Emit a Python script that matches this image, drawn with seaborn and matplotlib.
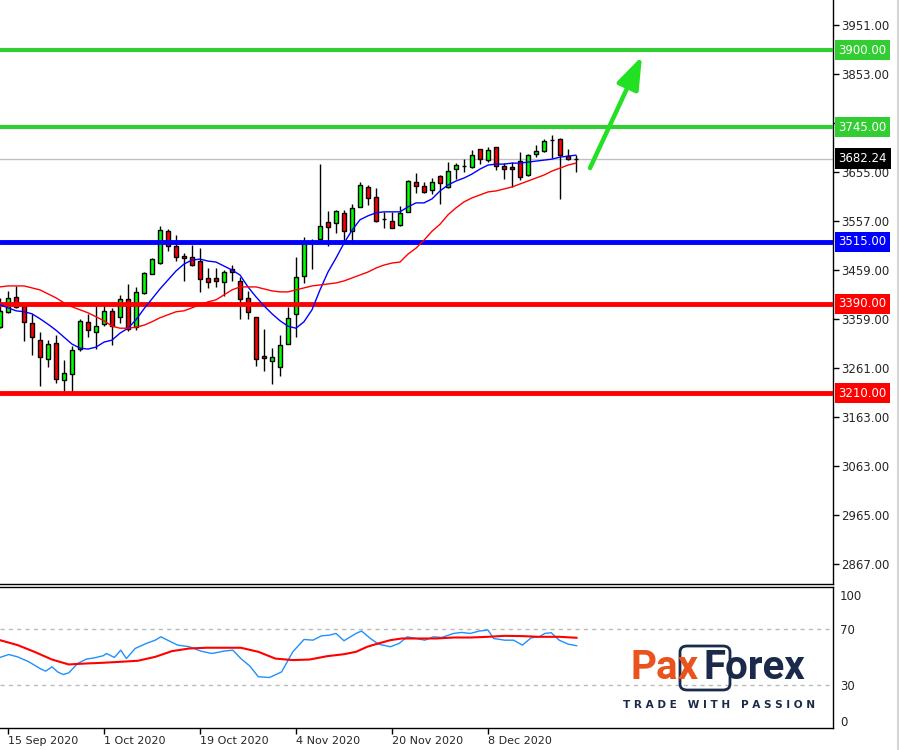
import numpy as np
import pandas as pd
import matplotlib
matplotlib.use("Agg")
import matplotlib.pyplot as plt
import seaborn as sns
from matplotlib.patches import FancyBboxPatch
from matplotlib.lines import Line2D

sns.set_style("white")
plt.rcParams['font.family'] = ['DejaVu Sans']

# daily candles, 14 Sep 2020 .. 23 Dec 2020 (index 0..72)
opens = [3343, 3374, 3404, 3386, 3351, 3317, 3279, 3311, 3237, 3249,
         3299, 3354, 3333, 3349, 3376, 3364, 3400, 3343, 3412, 3450,
         3472, 3536, 3506, 3486, 3484, 3476, 3442, 3442, 3434, 3460,
         3436, 3402, 3364, 3285, 3275, 3263, 3309, 3370, 3446, 3512,
         3520, 3555, 3553, 3573, 3536, 3585, 3625, 3605, 3561, 3557,
         3549, 3575, 3635, 3627, 3619, 3647, 3625, 3661, 3667, 3665,
         3701, 3679, 3705, 3667, 3665, 3677, 3649, 3691, 3697, 3719,
         3721, 3687, 3682]
highs = [3402, 3416, 3426, 3394, 3370, 3333, 3317, 3327, 3277, 3305,
         3360, 3370, 3392, 3394, 3382, 3408, 3430, 3424, 3454, 3482,
         3546, 3540, 3528, 3492, 3508, 3502, 3462, 3462, 3458, 3468,
         3444, 3416, 3364, 3339, 3301, 3327, 3384, 3484, 3524, 3520,
         3671, 3577, 3579, 3579, 3591, 3635, 3629, 3623, 3575, 3575,
         3587, 3639, 3653, 3635, 3643, 3649, 3675, 3673, 3681, 3699,
         3701, 3705, 3705, 3673, 3675, 3695, 3691, 3709, 3721, 3730,
         3723, 3701, 3689]
lows = [3341, 3372, 3382, 3315, 3287, 3225, 3263, 3231, 3211, 3213,
        3295, 3323, 3299, 3345, 3307, 3351, 3335, 3337, 3410, 3450,
        3470, 3496, 3476, 3436, 3466, 3414, 3422, 3424, 3406, 3436,
        3360, 3360, 3265, 3255, 3229, 3245, 3309, 3323, 3432, 3460,
        3518, 3506, 3532, 3514, 3516, 3585, 3589, 3555, 3542, 3542,
        3546, 3575, 3613, 3613, 3611, 3591, 3623, 3641, 3655, 3663,
        3671, 3675, 3659, 3641, 3625, 3639, 3647, 3685, 3695, 3683,
        3601, 3679, 3655]
closes = [3376, 3402, 3384, 3354, 3323, 3283, 3309, 3239, 3251, 3297,
          3355, 3337, 3345, 3376, 3345, 3400, 3339, 3414, 3452, 3480,
          3538, 3506, 3484, 3482, 3468, 3440, 3434, 3436, 3454, 3454,
          3400, 3374, 3279, 3281, 3283, 3307, 3362, 3444, 3512, 3512,
          3546, 3545, 3577, 3536, 3583, 3629, 3603, 3557, 3561, 3542,
          3573, 3637, 3627, 3615, 3635, 3633, 3657, 3669, 3667, 3689,
          3681, 3699, 3667, 3661, 3661, 3645, 3689, 3697, 3717, 3719,
          3689, 3681, 3682.24]

# moving averages (one value per candle)
ma_fast = [3388, 3382, 3376, 3374, 3370, 3360, 3349, 3337, 3323, 3309,
           3301, 3299, 3303, 3313, 3317, 3331, 3341, 3358, 3380, 3400,
           3420, 3438, 3456, 3470, 3478, 3480, 3476, 3474, 3466, 3458,
           3448, 3424, 3404, 3386, 3370, 3356, 3345, 3341, 3354, 3378,
           3418, 3454, 3482, 3512, 3538, 3559, 3567, 3573, 3575, 3575,
           3575, 3585, 3593, 3593, 3601, 3617, 3629, 3637, 3643, 3651,
           3661, 3669, 3671, 3671, 3673, 3673, 3675, 3677, 3679, 3681,
           3685, 3687, 3689]
ma_slow = [3424, 3426, 3426, 3426, 3422, 3418, 3410, 3402, 3392, 3384,
           3378, 3372, 3364, 3356, 3345, 3341, 3341, 3343, 3347, 3354,
           3362, 3368, 3374, 3376, 3382, 3388, 3394, 3398, 3408, 3418,
           3424, 3424, 3424, 3420, 3416, 3414, 3414, 3418, 3422, 3426,
           3428, 3430, 3432, 3436, 3442, 3448, 3454, 3462, 3468, 3472,
           3474, 3490, 3502, 3518, 3536, 3550, 3569, 3583, 3595, 3603,
           3609, 3615, 3617, 3621, 3625, 3631, 3637, 3643, 3649, 3657,
           3663, 3669, 3673]

# oscillator panel
osc_pos = [0.0, 1.1, 2.2, 3.6, 5.0, 5.7, 6.5, 7.2, 7.9, 8.6, 9.7, 10.8,
           11.8, 12.9, 13.3, 14.3, 15.1, 15.8, 16.9, 18.3, 19.4, 20.1,
           21.2, 22.2, 23.7, 25.1, 26.5, 28.0, 29.1, 30.1, 31.2, 32.3,
           33.7, 35.2, 36.6, 38.0, 39.1, 40.2, 41.2, 42.0, 43.0, 44.5,
           45.2, 46.3, 47.3, 48.8, 49.9, 50.9, 52.0, 53.1, 54.2, 55.2,
           56.7, 57.7, 58.8, 59.9, 61.0, 61.7, 63.1, 64.2, 65.3, 66.4,
           67.4, 68.1, 68.9, 69.9, 71.0, 72.1]
osc_vals = [49.8, 51.9, 50.2, 46.7, 41.9, 40.0, 43.1, 39.5, 37.6, 38.8, 45.5,
            48.6, 49.5, 51.0, 52.6, 49.8, 55.0, 49.0, 56.2, 59.8, 62.1, 64.5,
            61.4, 58.6, 57.4, 54.3, 52.6, 54.3, 55.0, 49.0, 43.8, 36.0, 35.5,
            39.5, 53.8, 62.6, 62.1, 65.2, 65.7, 66.9, 61.7, 66.9, 68.6, 63.3,
            59.3, 57.4, 59.8, 64.5, 63.3, 62.1, 64.5, 64.0, 66.9, 67.6, 66.9,
            68.6, 69.3, 63.3, 62.1, 62.1, 58.6, 63.8, 64.5, 66.9, 67.4, 62.1,
            59.3, 58.1]
sig_pos = [0, 2.2, 4.3, 6.5, 8.6, 10.8, 12.9, 15.1, 17.2, 19.4, 21.5, 23.7,
           25.8, 28.0, 30.1, 32.3, 34.4, 36.6, 38.7, 40.9, 43.0, 44.5, 45.9,
           47.3, 48.8, 50.2, 52.4, 54.5, 56.7, 58.8, 61.0, 63.1, 65.3, 67.4,
           69.9, 72.1]
sig_vals = [62.1, 58.6, 53.8, 48.3, 44.8, 45.5, 46.0, 46.7, 47.4, 50.2, 54.3,
            56.2, 56.7, 56.7, 56.7, 53.8, 49.0, 47.9, 48.3, 50.7, 52.1, 53.8,
            57.4, 59.8, 62.1, 63.3, 63.3, 63.3, 64.0, 64.0, 64.5, 65.2, 65.0,
            64.5, 64.5, 63.8]

# levels
levels = [3900, 3745, 3515, 3390, 3210]
level_colors = ['#32CD32', '#32CD32', '#0000FF', '#FF0000', '#FF0000']
last_price = 3682.24

price_ticks = [3951, 3853, 3753, 3655, 3557, 3459, 3359, 3261, 3163, 3063, 2965, 2867]
date_pos = [1, 13, 25, 37, 49, 61]
date_labels = ['15 Sep 2020', '1 Oct 2020', '19 Oct 2020', '4 Nov 2020',
               '20 Nov 2020', '8 Dec 2020']

W, H = 900, 750
fig = plt.figure(figsize=(9, 7.5), dpi=100)
ax = fig.add_axes([0, 1 - 584 / H, 833 / W, 584 / H])
ax2 = fig.add_axes([0, 1 - 728 / H, 833 / W, 141 / H])

idx = np.arange(len(opens))
o = np.array(opens, dtype=float)
c = np.array(closes, dtype=float)
body_col = np.where(c > o, '#00FF00', '#FF0000')

# levels + last price line
ax.axhline(last_price, color='#C0C0C0', lw=1, zorder=1)
for lv, col in zip(levels, level_colors):
    ax.axhline(lv, color=col, lw=3.5 if col != '#32CD32' else 3, zorder=4)

# candles
ax.vlines(idx, lows, highs, color='black', lw=1, zorder=2)
ax.bar(idx, np.abs(c - o), bottom=np.minimum(o, c), width=0.62,
       color=body_col, edgecolor='black', linewidth=1, zorder=3)

sns.lineplot(x=idx, y=ma_fast, ax=ax, color='#0000FF', lw=1, zorder=5)
sns.lineplot(x=idx, y=ma_slow, ax=ax, color='#FF0000', lw=1, zorder=5)

# arrow
ax.annotate('', xy=(80.25, 3888), xytext=(73.75, 3663),
            arrowprops=dict(arrowstyle='-|>,head_length=0.9,head_width=0.32',
                            color='#22E022', lw=3.2, mutation_scale=22,
                            shrinkA=0, shrinkB=0), zorder=6)

ax.set_xlim(0, 833 / 8)
ax.set_ylim(4001 - 2.011 * 584, 4001)
ax.set_xticks([])
ax.yaxis.tick_right()
ax.set_yticks(price_ticks, [f'{v:.2f}' for v in price_ticks])
ax.tick_params(axis='y', direction='out', length=4, width=1, color='black',
               labelsize=8.5, pad=2)
for s in ['top', 'left']:
    ax.spines[s].set_visible(False)
for s in ['right', 'bottom']:
    ax.spines[s].set_color('black')
    ax.spines[s].set_linewidth(1)

# price labels on the axis
tr = ax.get_yaxis_transform()
for lv, col in zip(levels, level_colors):
    ax.text(1.0066, lv, f'{lv:.2f}', transform=tr, color='white', fontsize=8.5,
            va='center', ha='left', clip_on=False, zorder=10,
            bbox=dict(boxstyle='square,pad=0.3', fc=col, ec='none'))
ax.text(1.0066, last_price, f'{last_price:.2f}', transform=tr, color='white',
        fontsize=8.5, va='center', ha='left', clip_on=False, zorder=10,
        bbox=dict(boxstyle='square,pad=0.3', fc='black', ec='none'))

# oscillator panel
ax2.axhline(70, color='#BBBBBB', lw=1, ls=(0, (3, 3)))
ax2.axhline(30, color='#BBBBBB', lw=1, ls=(0, (3, 3)))
sns.lineplot(x=osc_pos, y=osc_vals, ax=ax2, color='#1E90FF', lw=1)
sns.lineplot(x=sig_pos, y=sig_vals, ax=ax2, color='#FF0000', lw=1.5)
ax2.set_xlim(0, 833 / 8)
ax2.set_ylim(-0.5, 100)
ax2.yaxis.tick_right()
ax2.set_yticks([4.5, 30, 70, 94.5], ['0', '30', '70', '100'])
ax2.tick_params(axis='y', length=0, labelsize=8.5, pad=5)
ax2.set_xticks(date_pos, date_labels, ha='left')
ax2.tick_params(axis='x', direction='out', length=4, width=1, color='black',
                labelsize=8, pad=2, bottom=True)
ax2.spines['left'].set_visible(False)
for s in ['top', 'right', 'bottom']:
    ax2.spines[s].set_color('black')
    ax2.spines[s].set_linewidth(1)

# window edge
fig.add_artist(Line2D([898 / W, 898 / W], [0, 1], color='#D5D5D5', lw=1.5))

# logo
navy = '#1B2A4A'
orange = '#E8531E'
fig.text(699 / W, 1 - 668 / H, 'Pax', color=orange, fontsize=29,
         fontweight='bold', family='Roboto', ha='right', va='center', zorder=20)
fig.text(703 / W, 1 - 668 / H, 'Forex', color=navy, fontsize=29,
         fontweight='bold', family='Roboto', ha='left', va='center', zorder=20)
fig.add_artist(FancyBboxPatch((680 / W, 1 - 690 / H), 50 / W, 44 / H,
                              boxstyle='round,pad=0,rounding_size=0.008',
                              fc='none', ec=navy, lw=2, zorder=19))
fig.text(719 / W, 1 - 705 / H, 'T R A D E   W I T H   P A S S I O N',
         color=navy, fontsize=7.6, fontweight='bold', ha='center', va='center',
         zorder=20)

fig.savefig('out.png', dpi=100)
